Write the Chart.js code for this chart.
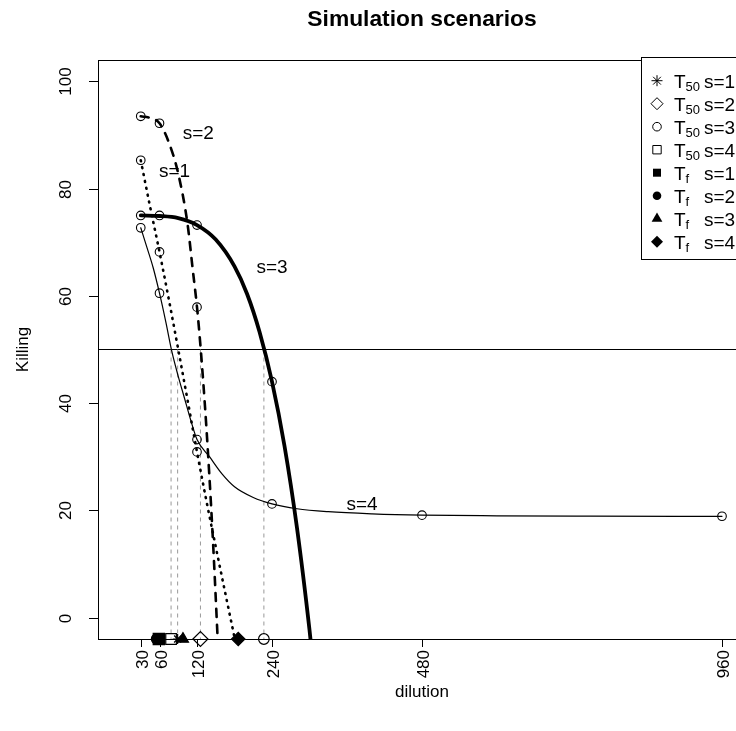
<!DOCTYPE html>
<html>
<head>
<meta charset="utf-8">
<title>Simulation scenarios</title>
<script src="https://cdn.jsdelivr.net/npm/chart.js@4.4.1/dist/chart.umd.min.js"></script>
<style>
  html, body { margin:0; padding:0; background:#fff; overflow:hidden; }
  #wrap { width:736px; height:731px; overflow:hidden; position:relative; }
  #chart { position:absolute; left:0; top:0; }
</style>
</head>
<body>
<div id="wrap"><canvas id="chart" width="770" height="731" style="width:770px;height:731px"></canvas></div>
<script>
const FONT = '"Liberation Sans", Arial, Helvetica, sans-serif';

// axes
const xTicks = [30, 60, 120, 240, 480, 960];
const yTicks = [0, 20, 40, 60, 80, 100];
const xRange = [-38.4, 998.4];
const yRange = [-4, 104];
const threshold = 50;

// observed killing per scenario
const obsX1 = [30, 60, 120];
const obsY1 = [85.3, 68.2, 30.9];
const obsX2 = [30, 60, 120];
const obsY2 = [93.5, 92.2, 57.9];
const obsX3 = [30, 60, 120, 240];
const obsY3 = [75.0, 75.0, 73.2, 44.0];
const obsX4 = [30, 60, 120, 240, 480, 960];
const obsY4 = [72.7, 60.5, 33.2, 21.2, 19.1, 18.9];

// fitted curves
const fitX1 = [30, 45, 60, 75, 90, 105, 120, 135, 150, 165, 185];
const fitY1 = [85.3, 76.6, 68.2, 59.3, 50.0, 40.5, 30.9, 21.8, 13.2, 4.7, -6.5];
const fitX2 = [30, 45, 60, 75, 90, 105, 113, 120, 126, 135, 145, 153, 158];
const fitY2 = [93.5, 93.2, 92.2, 88.6, 82.8, 73.3, 65.1, 57.9, 50.0, 35.5, 15.5, -3.9, -17.0];
const fitX3 = [30, 60, 90, 120, 150, 180, 200, 220, 240, 260, 280, 300, 315];
const fitY3 = [75.0, 74.9, 74.5, 73.2, 70.5, 65.5, 60.4, 53.3, 44.0, 32.0, 16.7, -2.3, -19.0];
const fitX4 = [30, 40, 50, 60, 70, 80, 90, 100, 110, 120, 140, 160, 180, 210, 240, 280, 330, 400, 480, 600, 750, 960];
const fitY4 = [72.7, 69.0, 65.2, 60.5, 55.2, 49.5, 45.0, 40.9, 36.8, 33.2, 30.0, 26.8, 24.4, 22.4, 21.2, 20.3, 19.75, 19.35, 19.1, 18.98, 18.92, 18.88];

// curve labels
const curveNames = ['s=1', 's=2', 's=3', 's=4'];
const labelX = [84, 122, 240, 384];
const labelY = [83.1, 90.3, 65.2, 21.0];

// T50 and Tf per scenario (s=1..4), shown along the bottom
const t50 = [89, 125.5, 227, 78.5];
const tf = [59, 55, 97.5, 186];
const markerY = -4;

const legendText = ['s=1', 's=2', 's=3', 's=4', 's=1', 's=2', 's=3', 's=4'];
const legendSub = ['50', '50', '50', '50', 'f', 'f', 'f', 'f'];
const legendStyle = ['star', 'rectRot', 'circle', 'rect', 'rect', 'circle', 'triangle', 'rectRot'];
const legendFilled = [false, false, false, false, true, true, true, true];
const legendSize = [5.5, 6, 4.3, 4.2, 4, 4.3, 6.2, 6];

const pts = (xs, ys) => xs.map((x, i) => ({ x, y: ys[i] }));

const curve = (xs, ys, width, dash) => ({
  data: pts(xs, ys), showLine: true, pointRadius: 0, borderColor: '#000',
  borderWidth: width, borderDash: dash, borderCapStyle: 'round', borderJoinStyle: 'round',
  cubicInterpolationMode: 'monotone', clip: 0
});
const observed = (xs, ys) => ({
  data: pts(xs, ys), showLine: false, pointStyle: 'circle', pointRadius: 4.3,
  pointBorderWidth: 1.1, pointBorderColor: '#000', pointBackgroundColor: 'rgba(0,0,0,0)'
});
const marker = (x, style, r, filled) => ({
  data: [{ x, y: markerY }], showLine: false, pointStyle: style, pointRadius: r,
  pointBorderWidth: 1.2, pointBorderColor: '#000',
  pointBackgroundColor: filled ? '#000' : 'rgba(0,0,0,0)', clip: false
});
const guide = x => ({
  data: [{ x, y: threshold }, { x, y: markerY }], showLine: true, pointRadius: 0,
  borderColor: '#999', borderWidth: 1, borderDash: [4, 4]
});

const datasets = [
  // Tf markers
  marker(tf[3], 'rectRot', 6.7, true),
  marker(tf[2], 'triangle', 6.4, true),
  marker(tf[0], 'rect', 8, true),
  marker(tf[1], 'circle', 5, true),
  // T50 markers
  marker(t50[3], 'rect', 7.5, false),
  marker(t50[2], 'circle', 5.3, false),
  marker(t50[1], 'rectRot', 7.5, false),
  marker(t50[0], 'star', 5, false),
  // data points
  observed(obsX1, obsY1),
  observed(obsX2, obsY2),
  observed(obsX3, obsY3),
  observed(obsX4, obsY4),
  // fitted curves
  curve(fitX1, fitY1, 2.6, [1, 6]),
  curve(fitX2, fitY2, 2.6, [8, 8]),
  curve(fitX3, fitY3, 3.8, []),
  curve(fitX4, fitY4, 1.2, []),
  // T50 guides and threshold
  ...t50.map(guide),
  { data: [{ x: xRange[0], y: threshold }, { x: xRange[1], y: threshold }], showLine: true,
    pointRadius: 0, borderColor: '#000', borderWidth: 1 }
];

// legend symbol, same shapes as the point styles
function symbol(ctx, style, filled, cx, cy, r) {
  ctx.beginPath();
  if (style === 'circle') {
    ctx.arc(cx, cy, r, 0, Math.PI * 2);
  } else if (style === 'rect') {
    ctx.rect(cx - r, cy - r, 2 * r, 2 * r);
  } else if (style === 'rectRot') {
    ctx.moveTo(cx - r, cy); ctx.lineTo(cx, cy - r); ctx.lineTo(cx + r, cy); ctx.lineTo(cx, cy + r); ctx.closePath();
  } else if (style === 'triangle') {
    ctx.moveTo(cx, cy - r); ctx.lineTo(cx + r * 0.866, cy + r / 2); ctx.lineTo(cx - r * 0.866, cy + r / 2); ctx.closePath();
  } else if (style === 'star') {
    const d = r * Math.SQRT1_2;
    ctx.moveTo(cx - r, cy); ctx.lineTo(cx + r, cy);
    ctx.moveTo(cx, cy - r); ctx.lineTo(cx, cy + r);
    ctx.moveTo(cx - d, cy - d); ctx.lineTo(cx + d, cy + d);
    ctx.moveTo(cx - d, cy + d); ctx.lineTo(cx + d, cy - d);
    ctx.stroke();
    return;
  }
  if (filled) ctx.fill(); else ctx.stroke();
}

const frame = {
  id: 'frame',
  afterDraw(chart) {
    const { ctx, chartArea: a } = chart;
    const xs = chart.scales.x, ys = chart.scales.y;
    ctx.save();
    ctx.strokeStyle = '#000';
    ctx.fillStyle = '#000';
    ctx.lineWidth = 1;
    ctx.strokeRect(a.left + 0.5, a.top + 0.5, a.right - a.left, a.bottom - a.top);

    ctx.font = '17px ' + FONT;
    // y axis
    yTicks.forEach(v => {
      const py = Math.round(ys.getPixelForValue(v)) + 0.5;
      ctx.beginPath(); ctx.moveTo(a.left - 9, py); ctx.lineTo(a.left, py); ctx.stroke();
      ctx.save(); ctx.translate(71, py); ctx.rotate(-Math.PI / 2);
      ctx.textAlign = 'center'; ctx.fillText(String(v), 0, 0); ctx.restore();
    });
    // x axis
    xTicks.forEach(v => {
      const px = Math.round(xs.getPixelForValue(v)) + 0.5;
      ctx.beginPath(); ctx.moveTo(px, a.bottom); ctx.lineTo(px, a.bottom + 8); ctx.stroke();
      ctx.save(); ctx.translate(px + 6, a.bottom + 11); ctx.rotate(-Math.PI / 2);
      ctx.textAlign = 'right'; ctx.fillText(String(v), 0, 0); ctx.restore();
    });
    // axis titles
    ctx.textAlign = 'center';
    ctx.fillText('dilution', (a.left + a.right) / 2, 697);
    ctx.save(); ctx.translate(28, (a.top + a.bottom) / 2); ctx.rotate(-Math.PI / 2);
    ctx.fillText('Killing', 0, 0); ctx.restore();

    // curve labels
    ctx.font = '19px ' + FONT;
    ctx.textBaseline = 'middle';
    curveNames.forEach((t, i) => ctx.fillText(t, xs.getPixelForValue(labelX[i]), ys.getPixelForValue(labelY[i])));
    ctx.textBaseline = 'alphabetic';

    // title
    ctx.font = 'bold 22.8px ' + FONT;
    ctx.fillText('Simulation scenarios', (a.left + a.right) / 2, 26);

    // legend
    const lx = 641.5, ly = 57.5;
    ctx.fillStyle = '#fff';
    ctx.fillRect(lx, ly, 140, 202);
    ctx.strokeRect(lx, ly, 140, 202);
    ctx.fillStyle = '#000';
    legendText.forEach((t, i) => {
      const cy = 80.7 + i * 23;
      symbol(ctx, legendStyle[i], legendFilled[i], 657, cy, legendSize[i]);
      ctx.textAlign = 'left';
      ctx.font = '19px ' + FONT;
      ctx.fillText('T', 674, cy + 7);
      ctx.font = '13px ' + FONT;
      ctx.fillText(legendSub[i], 685.6, cy + 10.5);
      ctx.font = '19px ' + FONT;
      ctx.fillText(t, 704, cy + 7);
    });
    ctx.restore();
  }
};

new Chart(document.getElementById('chart'), {
  type: 'scatter',
  data: { datasets },
  options: {
    responsive: false,
    animation: false,
    events: [],
    layout: { padding: { left: 98, top: 60, right: 24, bottom: 92 } },
    scales: {
      x: { type: 'linear', min: xRange[0], max: xRange[1], display: false },
      y: { type: 'linear', min: yRange[0], max: yRange[1], display: false }
    },
    plugins: { legend: { display: false }, tooltip: { enabled: false }, title: { display: false } }
  },
  plugins: [frame]
});
</script>
</body>
</html>
